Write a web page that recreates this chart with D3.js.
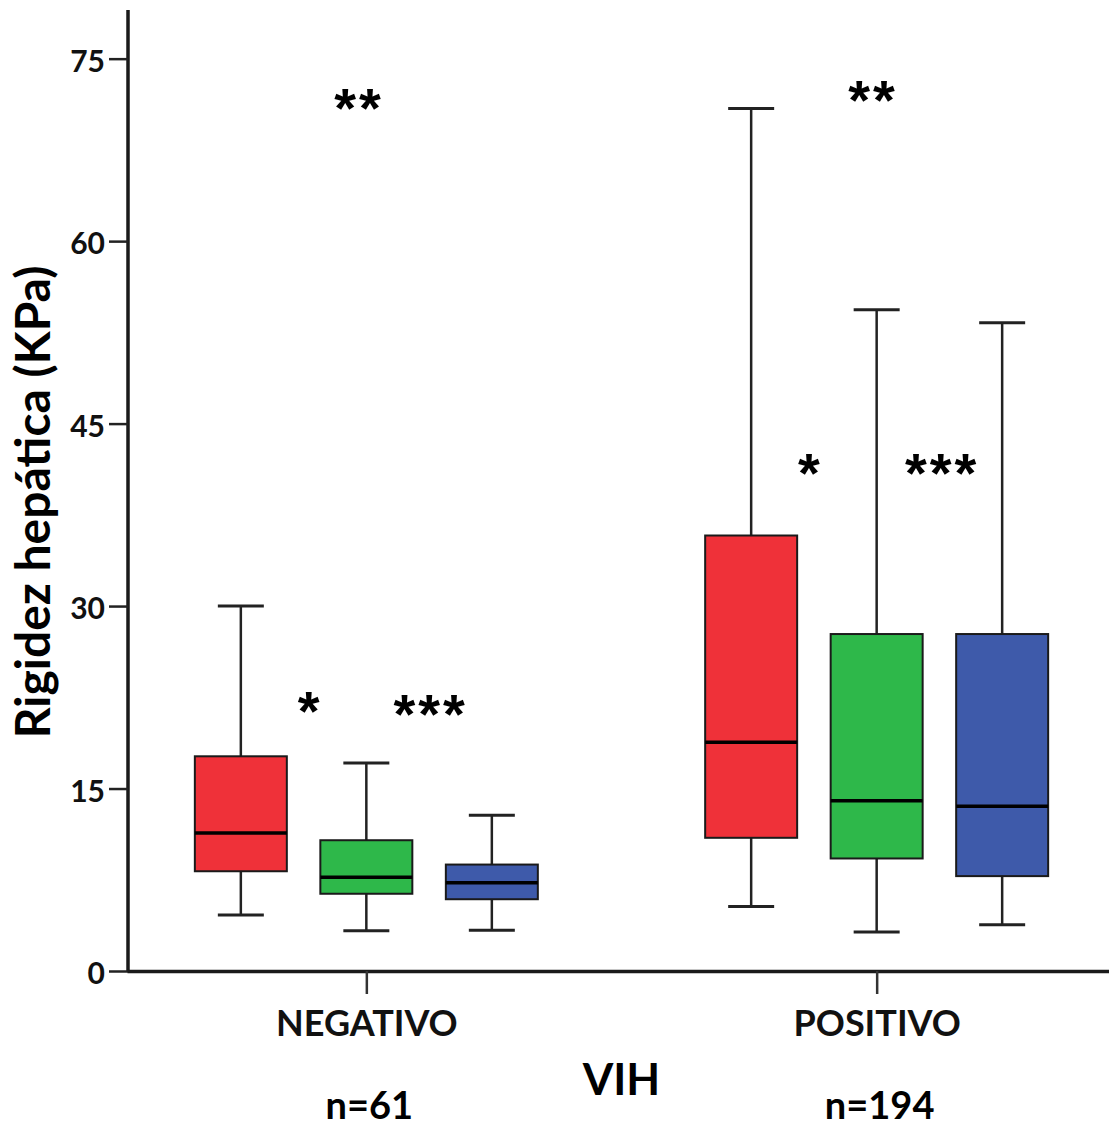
<!DOCTYPE html>
<html>
<head>
<meta charset="utf-8">
<script src="https://cdn.jsdelivr.net/npm/d3@7"></script>
<style>
  body { margin: 0; background: #fff; }
  svg { display: block; }
</style>
</head>
<body>
<div id="chart"></div>
<script>
// data (KPa)
var groups = ["NEGATIVO", "POSITIVO"];
var groupN = ["n=61", "n=194"];
var series = ["rojo", "verde", "azul"];
var colors = ["#ef3139", "#2eb84a", "#3e5aaa"];

// one row per group, one value per series
var whiskerLow  = [[4.6, 3.3, 3.35], [5.3, 3.2, 3.8]];
var q1          = [[8.2, 6.35, 5.9], [10.95, 9.25, 7.8]];
var median      = [[11.35, 7.7, 7.25], [18.8, 14.0, 13.55]];
var q3          = [[17.65, 10.75, 8.75], [35.8, 27.7, 27.7]];
var whiskerHigh = [[30.0, 17.1, 12.8], [70.9, 54.35, 53.3]];

var yTicks = [0, 15, 30, 45, 60, 75];

// significance marks: group, position in series units (0 = first box), value
var annoText  = ["**", "*", "***", "**", "*", "***"];
var annoGroup = [0, 0, 0, 1, 1, 1];
var annoPos   = [0.93, 0.54, 1.5, 0.96, 0.46, 1.51];
var annoValue = [71.6, 22.1, 21.8, 72.3, 41.6, 41.6];

var width = 1109, height = 1128;
var fontMain = "Lato, 'Open Sans', sans-serif";

var svg = d3.select("#chart")
    .append("svg")
    .attr("width", width)
    .attr("height", height);

var y = d3.scaleLinear().domain([0, 79]).range([971, 10]);

var x = d3.scalePoint().domain(groups).range([127, 1116]).padding(0.469);

var inner = d3.scaleBand().domain(series)
    .range([-188.25, 188.25])
    .paddingInner(0.267)
    .paddingOuter(0.1335);
var bw = inner.bandwidth();

// flatten boxes
var boxes = [];
groups.forEach(function(g, gi) {
    series.forEach(function(s, si) {
        boxes.push({
            g: g, s: s, color: colors[si],
            lo: whiskerLow[gi][si], q1: q1[gi][si], med: median[gi][si],
            q3: q3[gi][si], hi: whiskerHigh[gi][si]
        });
    });
});

function cx(d) { return x(d.g) + inner(d.s) + bw / 2; }

var plot = svg.append("g");

var box = plot.selectAll("g.box")
    .data(boxes)
    .enter()
    .append("g")
    .attr("class", "box");

// whiskers (vertical)
box.append("line")
    .attr("x1", cx).attr("x2", cx)
    .attr("y1", function(d) { return y(d.hi); })
    .attr("y2", function(d) { return y(d.q3); })
    .attr("stroke", "#222").attr("stroke-width", 2.5);
box.append("line")
    .attr("x1", cx).attr("x2", cx)
    .attr("y1", function(d) { return y(d.q1); })
    .attr("y2", function(d) { return y(d.lo); })
    .attr("stroke", "#222").attr("stroke-width", 2.5);

// whisker caps
["hi", "lo"].forEach(function(k) {
    box.append("line")
        .attr("x1", function(d) { return cx(d) - bw / 4; })
        .attr("x2", function(d) { return cx(d) + bw / 4; })
        .attr("y1", function(d) { return y(d[k]); })
        .attr("y2", function(d) { return y(d[k]); })
        .attr("stroke", "#222").attr("stroke-width", 3);
});

// box
box.append("rect")
    .attr("x", function(d) { return cx(d) - bw / 2; })
    .attr("y", function(d) { return y(d.q3); })
    .attr("width", bw)
    .attr("height", function(d) { return y(d.q1) - y(d.q3); })
    .attr("fill", function(d) { return d.color; })
    .attr("stroke", "#1a1a1a")
    .attr("stroke-width", 2);

// median
box.append("line")
    .attr("x1", function(d) { return cx(d) - bw / 2; })
    .attr("x2", function(d) { return cx(d) + bw / 2; })
    .attr("y1", function(d) { return y(d.med); })
    .attr("y2", function(d) { return y(d.med); })
    .attr("stroke", "#000").attr("stroke-width", 3.5);

// y axis
var yAxis = svg.append("g")
    .attr("transform", "translate(128,0)")
    .call(d3.axisLeft(y).tickValues(yTicks).tickSize(19).tickSizeOuter(0).tickPadding(4));
yAxis.select(".domain")
    .attr("stroke", "#1a1a1a").attr("stroke-width", 3.5)
    .attr("d", "M0," + y(0) + "V" + y.range()[1]);
yAxis.selectAll(".tick line").attr("stroke", "#222").attr("stroke-width", 2.5);
yAxis.selectAll(".tick text")
    .attr("fill", "#111")
    .attr("dy", "0.42em")
    .style("font-family", fontMain)
    .style("font-weight", "bold")
    .style("font-size", "30px");

// x axis
var xAxis = svg.append("g")
    .attr("transform", "translate(0," + y(0) + ")")
    .call(d3.axisBottom(x).tickSize(23).tickSizeOuter(0).tickPadding(8));
xAxis.select(".domain").attr("stroke", "#1a1a1a").attr("stroke-width", 3.5);
xAxis.selectAll(".tick line").attr("stroke", "#333").attr("stroke-width", 2.5);
xAxis.selectAll(".tick text")
    .attr("fill", "#111")
    .attr("dy", "0.95em")
    .style("font-family", fontMain)
    .style("font-weight", "bold")
    .style("font-size", "36px");

// axis titles
var yTitle = svg.append("text")
    .attr("transform", "translate(50,502) rotate(-90)")
    .attr("text-anchor", "middle")
    .style("font-family", fontMain)
    .style("font-weight", "bold")
    .style("font-size", "48px")
    .attr("fill", "#000")
    .text("Rigidez hepática (KPa)");
if (yTitle.node().getComputedTextLength() > 500) {
    yTitle.attr("textLength", 500).attr("lengthAdjust", "spacingAndGlyphs");
}

svg.append("text")
    .attr("x", (x(groups[0]) + x(groups[1])) / 2)
    .attr("y", 1095)
    .attr("text-anchor", "middle")
    .style("font-family", fontMain)
    .style("font-weight", "bold")
    .style("font-size", "44px")
    .attr("fill", "#000")
    .text("VIH");

svg.selectAll("text.nlab")
    .data(groups)
    .enter()
    .append("text")
    .attr("class", "nlab")
    .attr("x", function(d) { return x(d) + 3; })
    .attr("y", 1119)
    .attr("text-anchor", "middle")
    .style("font-family", fontMain)
    .style("font-weight", "bold")
    .style("font-size", "38px")
    .attr("fill", "#000")
    .text(function(d, i) { return groupN[i]; });

// significance asterisks
var annoFs = 56, annoLs = 3;
svg.selectAll("text.anno")
    .data(annoText)
    .enter()
    .append("text")
    .attr("class", "anno")
    .attr("x", function(d, i) {
        var g = groups[annoGroup[i]];
        return x(g) + inner(series[0]) + bw / 2 + annoPos[i] * inner.step() + annoLs / 2;
    })
    .attr("y", function(d, i) { return y(annoValue[i]) + 0.49 * annoFs; })
    .attr("text-anchor", "middle")
    .style("font-family", "'Liberation Sans', Arial, sans-serif")
    .style("font-weight", "bold")
    .style("font-size", annoFs + "px")
    .style("letter-spacing", annoLs + "px")
    .attr("fill", "#000")
    .text(function(d) { return d; });
</script>
</body>
</html>
